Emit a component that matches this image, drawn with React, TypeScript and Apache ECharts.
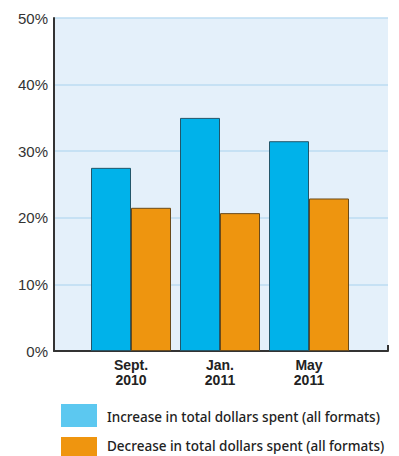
import React, { useEffect, useRef } from "react";
import * as echarts from "echarts";

const categories = ["Sept.\n2010", "Jan.\n2011", "May\n2011"];
const increaseValues = [27.5, 35, 31.5];
const decreaseValues = [21.5, 20.7, 22.9];
const seriesNames = [
  "Increase in total dollars spent (all formats)",
  "Decrease in total dollars spent (all formats)",
];
const legendColors = ["#5CC8F0", "#EF950F"];
const yTicks = [0, 10, 20, 30, 40, 50];

export default function App() {
  const ref = useRef<HTMLDivElement>(null);
  useEffect(() => {
    const chart = echarts.init(ref.current!, null, { renderer: "svg" });
    chart.setOption({
      animation: false,
      backgroundColor: "#ffffff",
      grid: [
        { left: 86.5, top: 18, width: 267, height: 333, containLabel: false },
        {
          left: 54,
          top: 18,
          width: 334,
          height: 333,
          show: true,
          backgroundColor: "#E4F0FA",
          borderWidth: 0,
          z: 0,
        },
      ],
      xAxis: [
        {
          type: "category",
          gridIndex: 0,
          data: categories,
          axisLine: { show: false },
          axisTick: { show: false },
          axisLabel: {
            color: "#222",
            fontFamily: "Liberation Sans",
            fontWeight: "bold",
            fontSize: 14,
            lineHeight: 15,
            margin: 6,
          },
        },
        {
          type: "value",
          gridIndex: 1,
          min: 0,
          max: 1,
          interval: 1,
          axisLine: { show: true, lineStyle: { color: "#333", width: 2 } },
          axisTick: { show: true, inside: true, length: 6, lineStyle: { color: "#333", width: 2 } },
          axisLabel: { show: false },
          splitLine: { show: false },
        },
      ],
      yAxis: [
        {
          type: "value",
          gridIndex: 0,
          min: 0,
          max: 50,
          interval: 10,
          show: false,
        },
        {
          type: "value",
          gridIndex: 1,
          min: yTicks[0],
          max: yTicks[yTicks.length - 1],
          interval: 10,
          axisLine: { show: true, lineStyle: { color: "#333", width: 2 } },
          axisTick: { show: false },
          axisLabel: {
            formatter: "{value}%",
            color: "#333",
            fontFamily: "Liberation Sans",
            fontSize: 15,
            margin: 6,
          },
          splitLine: { show: true, lineStyle: { color: "#BCDDF2", width: 1.5 } },
        },
      ],
      graphic: [
        { type: "rect", shape: { x: 61, y: 404, width: 36, height: 23 }, style: { fill: legendColors[0] } },
        { type: "rect", shape: { x: 61, y: 437, width: 36, height: 23 }, style: { fill: legendColors[1] } },
        {
          type: "text",
          x: 107,
          y: 417,
          style: {
            text: seriesNames[0],
            fill: "#222",
            font: "500 13.5px 'Noto Sans'",
            verticalAlign: "middle",
            align: "left",
          },
        },
        {
          type: "text",
          x: 107,
          y: 446,
          style: {
            text: seriesNames[1],
            fill: "#222",
            font: "500 13.5px 'Noto Sans'",
            verticalAlign: "middle",
            align: "left",
          },
        },
      ],
      series: [
        {
          name: seriesNames[0],
          type: "bar",
          xAxisIndex: 0,
          yAxisIndex: 0,
          data: increaseValues,
          barWidth: 40,
          barGap: "0%",
          z: 3,
          itemStyle: { color: "#00B2EA", borderColor: "#22566A", borderWidth: 1 },
        },
        {
          name: seriesNames[1],
          type: "bar",
          xAxisIndex: 0,
          yAxisIndex: 0,
          data: decreaseValues,
          barWidth: 40,
          barGap: "0%",
          z: 3,
          itemStyle: { color: "#EE950F", borderColor: "#6A4A1A", borderWidth: 1 },
        },
      ],
    });
    return () => chart.dispose();
  }, []);
  return <div ref={ref} style={{ width: 399, height: 456, position: "fixed", left: 0, top: 0 }} />;
}
